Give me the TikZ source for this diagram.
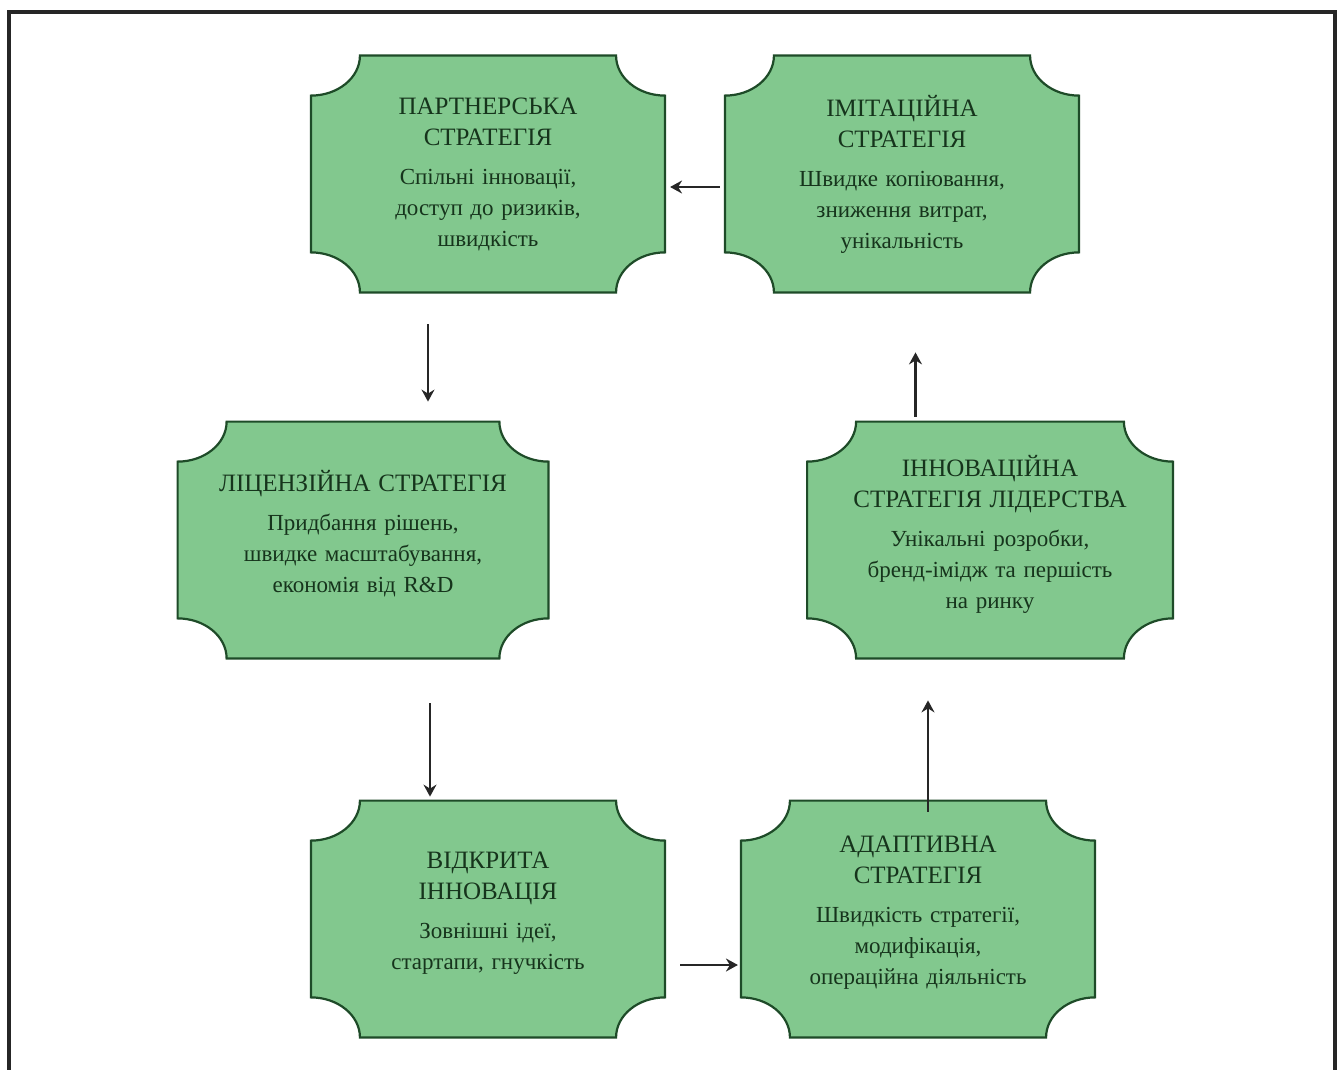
\documentclass[tikz,border=0pt]{standalone}
\usepackage{fontspec}
\setmainfont{Liberation Serif}
\usetikzlibrary{arrows.meta,backgrounds}

\definecolor{boxfill}{RGB}{130,200,142}
\definecolor{boxline}{RGB}{30,75,40}
\definecolor{textgreen}{RGB}{22,52,28}

% notch radii of the box corners
\newlength{\nrx}\setlength{\nrx}{24.5pt}
\newlength{\nry}\setlength{\nry}{20pt}

% extra room under the text, so it sits a bit high in the box
\newlength{\liftamt}\setlength{\liftamt}{6pt}
\newcommand{\liftup}{\par\kern\liftamt}
% heading of a box
\newcommand{\hd}[1]{{\fontsize{12.5}{15.5}\selectfont #1}}

\newcommand{\notchframe}[1]{%
  \filldraw[boxframe] ([xshift=\nrx]#1.north west) -- ([xshift=-\nrx]#1.north east)
    arc[start angle=180,end angle=270,x radius=\nrx,y radius=\nry]
    -- ([yshift=\nry]#1.south east)
    arc[start angle=90,end angle=180,x radius=\nrx,y radius=\nry]
    -- ([xshift=\nrx]#1.south west)
    arc[start angle=0,end angle=90,x radius=\nrx,y radius=\nry]
    -- ([yshift=-\nry]#1.north west)
    arc[start angle=270,end angle=360,x radius=\nrx,y radius=\nry]
    -- cycle;}

\begin{document}
\begin{tikzpicture}[x=0.5pt,y=0.5pt,
   stratbox/.style={rectangle,minimum width=175pt,minimum height=118pt,
      text width=170pt,align=center,text=textgreen,
      font=\fontsize{11.5}{15.5}\selectfont,execute at end node=\liftup},
   lowtext/.style={/utils/exec={\setlength{\liftamt}{0pt}}},
   boxframe/.style={fill=boxfill,draw=boxline,line width=1.1pt},
   flow/.style={-{Stealth[length=6pt,width=6.5pt,inset=2pt]},line width=1.1pt,draw=black!85}]
\useasboundingbox (0,0) rectangle (1340,-1070);
\draw[line width=1.7pt,draw=black!85] (9,-1070) -- (9,-12) -- (1335,-12) -- (1335,-1070);

\node[stratbox,lowtext] (b1) at (488,-174) {\hd{ПАРТНЕРСЬКА\\ СТРАТЕГІЯ}\\[4pt]
   Спільні інновації,\\ доступ до ризиків,\\ швидкість};
\node[stratbox,lowtext] (b2) at (902,-174) {\hd{ІМІТАЦІЙНА\\ СТРАТЕГІЯ}\\[4pt]
   Швидке копіювання,\\ зниження витрат,\\ унікальність};
\node[stratbox,minimum width=185pt] (b3) at (363,-540) {\hd{ЛІЦЕНЗІЙНА СТРАТЕГІЯ}\\[4pt]
   Придбання рішень,\\ швидке масштабування,\\ економія від R\&D};
\node[stratbox,minimum width=182.5pt] (b4) at (990,-540) {\hd{ІННОВАЦІЙНА\\ СТРАТЕГІЯ ЛІДЕРСТВА}\\[4pt]
   Унікальні розробки,\\ бренд-імідж та першість\\ на ринку};
\node[stratbox] (b5) at (488,-919) {\hd{ВІДКРИТА\\ ІННОВАЦІЯ}\\[4pt]
   Зовнішні ідеї,\\ стартапи, гнучкість};
\node[stratbox] (b6) at (918,-919) {\hd{АДАПТИВНА\\ СТРАТЕГІЯ}\\[4pt]
   Швидкість стратегії,\\ модифікація,\\ операційна діяльність};

\begin{scope}[on background layer]
\foreach \i in {1,...,6} {\notchframe{b\i}}
\end{scope}

% arrows between the strategies
\draw[flow,shorten <=2.5pt,shorten >=2.5pt] ([yshift=-6.5pt]b2.west) -- ([yshift=-6.5pt]b1.east);
\draw[flow,shorten <=16pt,shorten >=10pt] ([xshift=-30pt]b1.south) -- ([xshift=-30pt]b1.south |- b3.north);
\draw[flow,shorten <=22.5pt,shorten >=2pt] ([xshift=-29pt]b5.north |- b3.south) -- ([xshift=-29pt]b5.north);
\draw[flow,shorten <=7.5pt,shorten >=1.5pt] ([yshift=-23pt]b5.east) -- ([yshift=-23pt]b6.west);
\draw[flow,shorten <=-5.5pt,shorten >=21pt] ([xshift=5pt]b6.north) -- ([xshift=5pt]b6.north |- b4.south);
\draw[flow,shorten <=2.5pt,shorten >=30pt] ([xshift=6.75pt]b2.south |- b4.north) -- ([xshift=6.75pt]b2.south);
\end{tikzpicture}
\end{document}
